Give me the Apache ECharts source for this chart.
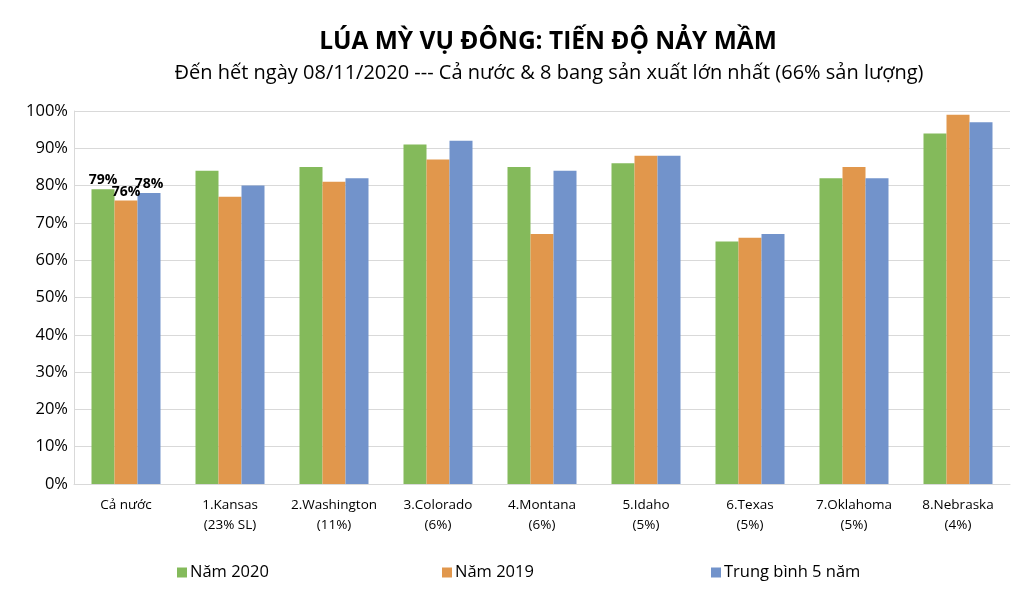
<!DOCTYPE html>
<html>
<head>
<meta charset="utf-8">
<script src="https://cdn.jsdelivr.net/npm/echarts@6/dist/echarts.min.js"></script>
<style>
  html, body { margin: 0; padding: 0; background: #fff; }
  #chart { width: 1024px; height: 598px; }
</style>
</head>
<body>
<div id="chart"></div>
<script>
// categories and values
const categories = [
  'Cả nước',
  '1.Kansas\n(23% SL)',
  '2.Washington\n(11%)',
  '3.Colorado\n(6%)',
  '4.Montana\n(6%)',
  '5.Idaho\n(5%)',
  '6.Texas\n(5%)',
  '7.Oklahoma\n(5%)',
  '8.Nebraska\n(4%)'
];
const seriesNames = ['Năm 2020', 'Năm 2019', 'Trung bình 5 năm'];
const year2020 = [79, 84, 85, 91, 85, 86, 65, 82, 94];
const year2019 = [76, 77, 81, 87, 67, 88, 66, 85, 99];
const avg5y    = [78, 80, 82, 92, 84, 88, 67, 82, 97];
const colors = ['#84BA5B', '#E1974C', '#7293CB'];

const FONT = '"Liberation Sans Narrow", "Open Sans", sans-serif';

// only the first category carries a value label
function withFirstLabel(values) {
  return values.map((v, i) => i === 0
    ? { value: v, label: { show: true, position: 'top', distance: 2, formatter: '{c}%',
        fontFamily: 'Open Sans', fontWeight: 'bold', fontSize: 14, color: '#000' } }
    : v);
}

const allValues = [year2020, year2019, avg5y];
const legendLefts = [172, 437, 706];

const chart = echarts.init(document.getElementById('chart'));
chart.setOption({
  animation: false,
  color: colors,
  title: [
    { text: 'LÚA MỲ VỤ ĐÔNG: TIẾN ĐỘ NẢY MẦM', left: 543, textAlign: 'center', top: 25,
      textStyle: { fontFamily: 'Open Sans', fontWeight: 'bold', fontSize: 24.5, color: '#000' } },
    { text: 'Đến hết ngày 08/11/2020 --- Cả nước & 8 bang sản xuất lớn nhất (66% sản lượng)',
      left: 544, textAlign: 'center', top: 58,
      textStyle: { fontFamily: 'Open Sans', fontWeight: 'normal', fontSize: 20, color: '#000' } }
  ],
  legend: seriesNames.map((name, i) => ({
    data: [name], left: legendLefts[i], top: 559, itemWidth: 10, itemHeight: 10,
    icon: 'rect', itemGap: 4,
    textStyle: { fontFamily: FONT, fontSize: 16.5, color: '#000', padding: [0, 0, 0, -2] }
  })),
  grid: { left: 74, right: 14, top: 111, bottom: 114 },
  xAxis: {
    type: 'category',
    data: categories,
    axisLine: { show: true, lineStyle: { color: '#d9d9d9' } },
    axisTick: { show: false },
    axisLabel: { fontFamily: FONT, fontSize: 13.5, color: '#000', lineHeight: 20, margin: 11, interval: 0 }
  },
  yAxis: {
    type: 'value', min: 0, max: 100, interval: 10,
    axisLine: { show: true, lineStyle: { color: '#d9d9d9' } },
    axisTick: { show: false },
    splitLine: { lineStyle: { color: '#d9d9d9', width: 1 } },
    axisLabel: { formatter: '{value}%', fontFamily: 'Open Sans', fontSize: 16.5, color: '#000', margin: 6 }
  },
  series: seriesNames.map((name, i) => ({
    name,
    type: 'bar',
    barWidth: 23,
    barGap: '0%',
    data: withFirstLabel(allValues[i])
  }))
});
</script>
</body>
</html>
